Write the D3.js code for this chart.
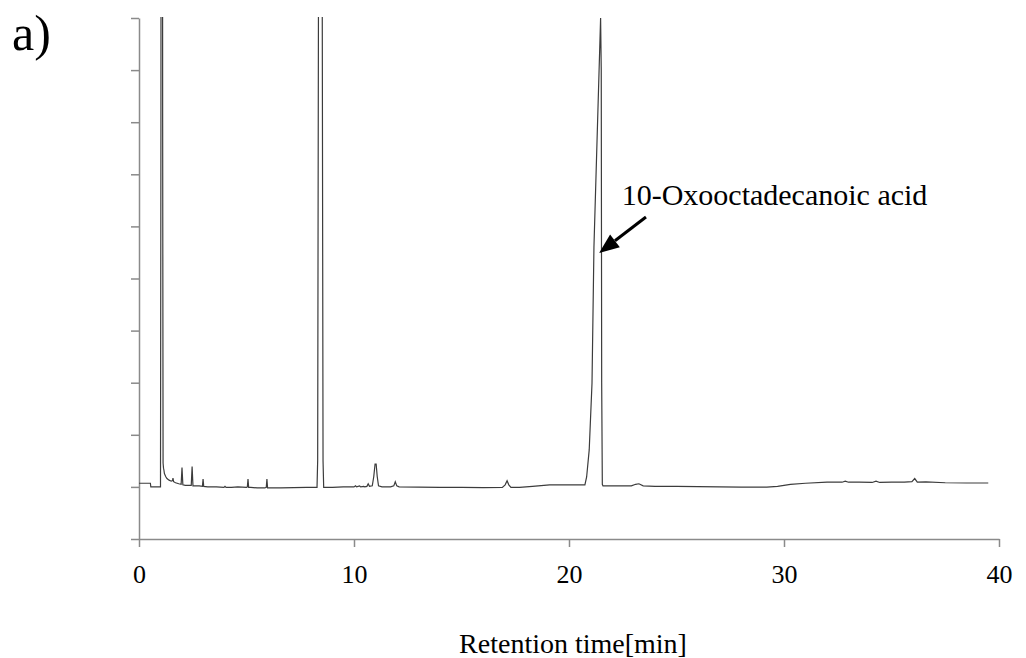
<!DOCTYPE html>
<html>
<head>
<meta charset="utf-8">
<script src="https://cdn.jsdelivr.net/npm/d3@7"></script>
<style>
  body { margin: 0; background: #fff; }
  text { font-family: "Liberation Serif", "Times New Roman", serif; }
</style>
</head>
<body>
<svg id="chart" width="1026" height="658"></svg>
<script>
// retention time (min) and detector signal (arbitrary units)
const times = [
  0, 0.53, 0.55, 1.00, 1.02, 1.06, 1.10, 1.12, 1.14, 1.16, 1.18, 1.24, 1.30, 1.40, 1.50,
  1.56, 1.58, 1.61, 1.70, 1.85, 1.96, 2.00, 2.04, 2.15, 2.30, 2.43, 2.47, 2.51, 2.65, 2.80,
  2.95, 2.98, 3.01, 3.20, 3.60, 3.95, 4.00, 4.05, 4.30, 4.60, 5.00, 5.04, 5.07, 5.10, 5.20,
  5.50, 5.85, 5.92, 5.95, 5.98, 6.10, 6.60, 7.20, 7.80, 8.28, 8.31, 8.35, 8.44, 8.52, 8.56,
  8.59, 9.00, 9.50, 10.00, 10.07, 10.12, 10.26, 10.31, 10.45, 10.50, 10.60, 10.66, 10.72,
  10.85, 10.92, 10.98, 11.03, 11.08, 11.14, 11.30, 11.70, 11.85, 11.92, 11.99, 12.10, 13.0,
  14.0, 15.0, 16.0, 16.9, 17.03, 17.12, 17.20, 17.30, 17.70, 18.30, 19.10, 19.80, 20.40,
  20.74, 20.82, 20.94, 21.07, 21.16, 21.47, 21.50, 21.52, 21.55, 21.58, 22.0, 22.9, 23.1,
  23.25, 23.45, 24.0, 25.0, 26.0, 27.0, 28.0, 29.2, 29.7, 30.3, 31.0, 32.0, 32.7, 32.85,
  33.0, 33.5, 34.1, 34.28, 34.45, 35.0, 35.6, 35.95, 36.08, 36.2, 36.6, 37.5, 38.5, 39.5
];
const signal = [
  1.07, 1.07, 1.00, 1.00, 8, 40, 8, 1.46, 1.36, 1.32, 1.26, 1.20, 1.16, 1.13, 1.11,
  1.12, 1.17, 1.10, 1.08, 1.06, 1.05, 1.37, 1.04, 1.03, 1.03, 1.03, 1.39, 1.02, 1.02, 1.02,
  1.01, 1.15, 1.01, 1.00, 1.00, 0.99, 1.01, 0.99, 0.99, 1.00, 0.99, 1.00, 1.15, 0.99, 0.99,
  0.98, 0.98, 0.99, 1.15, 0.98, 0.98, 0.98, 0.985, 0.99, 0.99, 1.5, 11, 40, 11, 1.5,
  0.99, 0.99, 1.00, 1.00, 1.02, 1.00, 1.02, 1.00, 1.01, 1.00, 1.01, 1.06, 1.01,
  1.02, 1.20, 1.44, 1.44, 1.20, 1.02, 1.00, 1.00, 1.02, 1.10, 1.02, 1.00, 0.995,
  0.99, 0.99, 0.985, 0.99, 1.04, 1.12, 1.04, 0.99, 0.99, 1.01, 1.04, 1.04, 1.04,
  1.04, 1.19, 1.71, 2.99, 5.6, 10.0, 9.0, 3.0, 1.05, 1.02, 1.02, 1.02, 1.05,
  1.06, 1.02, 1.01, 1.01, 1.005, 1.00, 0.995, 0.995, 1.01, 1.05, 1.07, 1.09, 1.09, 1.11,
  1.09, 1.09, 1.085, 1.11, 1.085, 1.09, 1.09, 1.10, 1.16, 1.09, 1.095, 1.08, 1.075, 1.075
];
const xTicks = [0, 10, 20, 30, 40];
const yTicks = [0, 1, 2, 3, 4, 5, 6, 7, 8, 9, 10];

const annotation = { text: "10-Oxooctadecanoic acid", tx: 22.45, tv: 6.41, from: [23.58, 6.18], to: [21.4, 5.49] };

const svg = d3.select("#chart");
const margin = { top: 18, right: 27, bottom: 119, left: 139 };
const width = 1026 - margin.left - margin.right;
const height = 658 - margin.top - margin.bottom;

const x = d3.scaleLinear().domain([0, 40]).range([0, width]);
const y = d3.scaleLinear().domain([0, 10]).range([height, 0]);

const g = svg.append("g")
    .attr("transform", `translate(${margin.left},${margin.top})`);

const axisColor = "#8a8a8a";

// y axis, ticks only
const yAxis = g.append("g")
    .call(d3.axisLeft(y).tickValues(yTicks).tickSize(8).tickSizeOuter(0).tickFormat(""));
yAxis.select(".domain").attr("stroke", axisColor).attr("stroke-width", 1.5);
yAxis.selectAll(".tick line").attr("stroke", axisColor).attr("stroke-width", 1.5);

// x axis
const xAxis = g.append("g")
    .attr("transform", `translate(0,${height})`)
    .call(d3.axisBottom(x).tickValues(xTicks).tickSize(8).tickSizeOuter(0));
xAxis.select(".domain").attr("stroke", axisColor).attr("stroke-width", 1.5);
xAxis.selectAll(".tick line").attr("stroke", axisColor).attr("stroke-width", 1.5);
xAxis.selectAll(".tick text")
    .attr("y", 44)
    .attr("dy", 0)
    .attr("fill", "#000")
    .style("font-family", "'Liberation Serif', serif")
    .style("font-size", "26px");

g.append("text")
    .attr("x", width / 2 + 4)
    .attr("y", height + 114)
    .attr("text-anchor", "middle")
    .style("font-size", "28px")
    .text("Retention time[min]");

// clip so the big peaks run off the top
svg.append("defs").append("clipPath").attr("id", "clip")
  .append("rect").attr("x", 0).attr("y", -1).attr("width", width).attr("height", height + 1);

const pts = times.map((t, i) => [t, signal[i]]);
const line = d3.line().x(d => x(d[0])).y(d => y(d[1]));

g.append("path")
    .datum(pts)
    .attr("clip-path", "url(#clip)")
    .attr("fill", "none")
    .attr("stroke", "#3c3c3c")
    .attr("stroke-width", 1.2)
    .attr("d", line);

// annotation with arrow
const ax0 = x(annotation.from[0]), ay0 = y(annotation.from[1]);
const ax1 = x(annotation.to[0]), ay1 = y(annotation.to[1]);
const ang = Math.atan2(ay1 - ay0, ax1 - ax0);
const headLen = 20, headW = 8;
const bx = ax1 - headLen * Math.cos(ang), by = ay1 - headLen * Math.sin(ang);

g.append("line")
    .attr("x1", ax0).attr("y1", ay0)
    .attr("x2", bx).attr("y2", by)
    .attr("stroke", "#000").attr("stroke-width", 3);
g.append("path")
    .attr("d", `M${ax1},${ay1}L${bx + headW * Math.sin(ang)},${by - headW * Math.cos(ang)}L${bx - headW * Math.sin(ang)},${by + headW * Math.cos(ang)}Z`)
    .attr("fill", "#000");

g.append("text")
    .attr("x", x(annotation.tx))
    .attr("y", y(annotation.tv))
    .style("font-size", "30px")
    .text(annotation.text);

svg.append("text")
    .attr("x", 12)
    .attr("y", 50)
    .style("font-size", "50px")
    .text("a)");
</script>
</body>
</html>
